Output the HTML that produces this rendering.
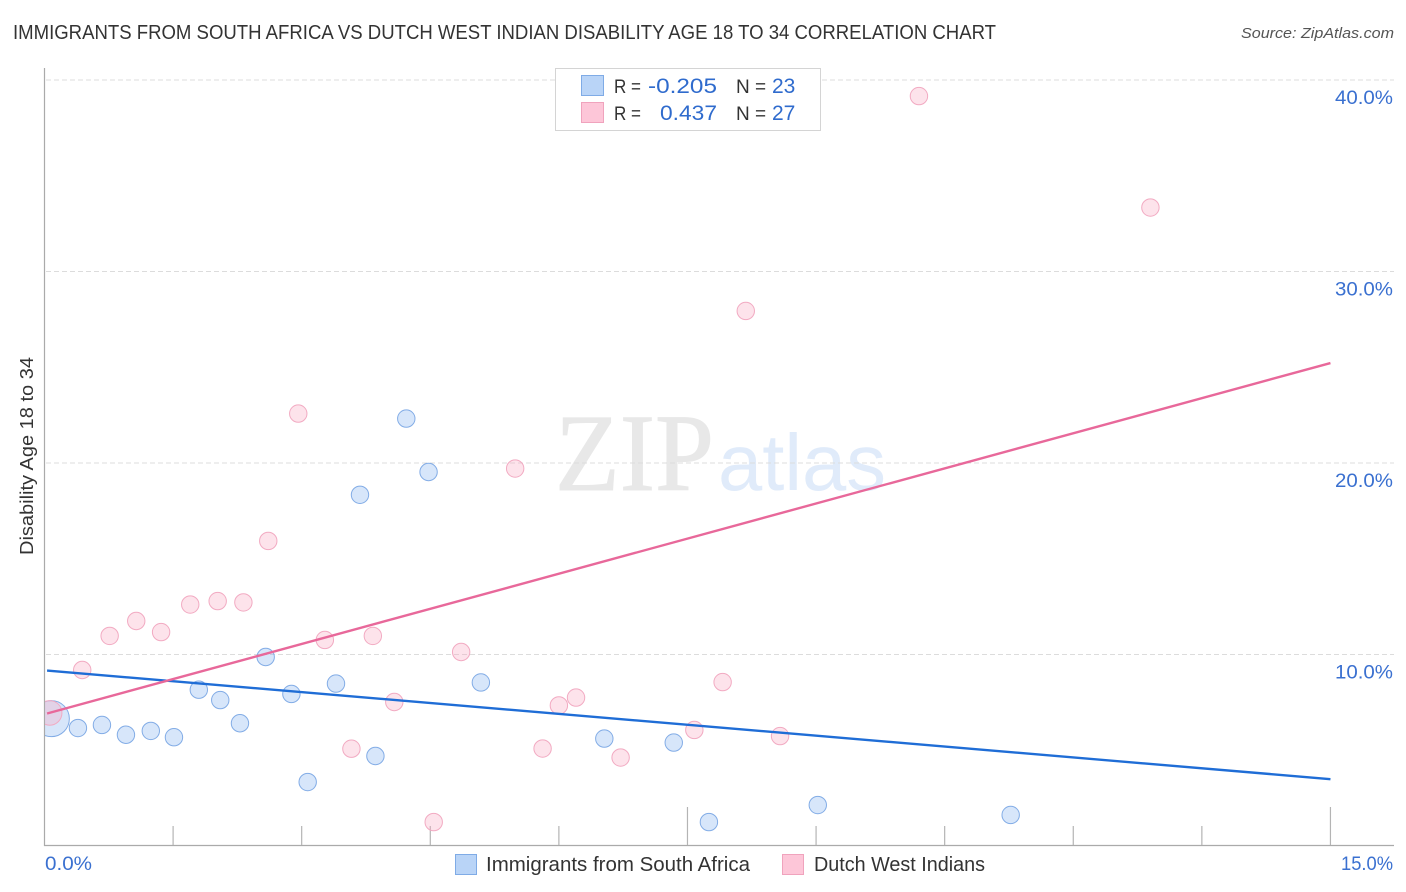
<!DOCTYPE html>
<html lang="en">
<head>
<meta charset="utf-8">
<title>Immigrants from South Africa vs Dutch West Indian Disability Age 18 to 34 Correlation Chart</title>
<style>
html,body{margin:0;padding:0;background:#fff;width:1406px;height:892px;overflow:hidden}
svg{display:block;font-family:"Liberation Sans",sans-serif}
</style>
</head>
<body>
<svg id="chart" xmlns="http://www.w3.org/2000/svg" width="1406" height="892" viewBox="0 0 1406 892">
  <defs><clipPath id="plot-clip"><rect x="45" y="60" width="1349" height="785"/></clipPath></defs>
  <text x="13" y="39" font-size="20" fill="#333" textLength="983" lengthAdjust="spacingAndGlyphs">IMMIGRANTS FROM SOUTH AFRICA VS DUTCH WEST INDIAN DISABILITY AGE 18 TO 34 CORRELATION CHART</text>
  <text x="1394" y="38" font-size="15" font-style="italic" fill="#555" text-anchor="end" textLength="153" lengthAdjust="spacingAndGlyphs">Source: ZipAtlas.com</text>

  <g>
    <text x="555" y="490" font-family="'Liberation Serif',serif" font-size="110" fill="#e8e8e8" stroke="#e8e8e8" stroke-width="1" textLength="159" lengthAdjust="spacingAndGlyphs">ZIP</text>
    <text x="718" y="490" font-size="80" fill="#e0ebfa" textLength="168" lengthAdjust="spacingAndGlyphs">atlas</text>
  </g>

  <g id="grid"></g>
  <g id="axes"></g>
  <g id="series-blue" clip-path="url(#plot-clip)"></g>
  <g id="series-pink" clip-path="url(#plot-clip)"></g>
  <g id="trends"></g>
  <g id="labels"></g>

  <text transform="translate(33,456) rotate(-90)" font-size="18" fill="#333" text-anchor="middle" textLength="198" lengthAdjust="spacingAndGlyphs">Disability Age 18 to 34</text>

  <g>
    <rect x="555.5" y="68.5" width="265" height="62" fill="#fff" stroke="#d4d4d4" stroke-width="1"/>
    <rect x="581.5" y="75.5" width="22" height="20" fill="#b9d4f7" stroke="#7fabe6"/>
    <rect x="581.5" y="102.5" width="22" height="20" fill="#fdc6d8" stroke="#f0a3bd"/>
    <text x="614" y="93" font-size="19" fill="#333" textLength="27" lengthAdjust="spacingAndGlyphs">R =</text>
    <text x="648" y="93" font-size="21" fill="#2f6bcd" textLength="69" lengthAdjust="spacingAndGlyphs">-0.205</text>
    <text x="736" y="93" font-size="19" fill="#333">N =</text>
    <text x="772" y="93" font-size="21" fill="#2f6bcd">23</text>
    <text x="614" y="120" font-size="19" fill="#333" textLength="27" lengthAdjust="spacingAndGlyphs">R =</text>
    <text x="660" y="120" font-size="21" fill="#2f6bcd" textLength="57" lengthAdjust="spacingAndGlyphs">0.437</text>
    <text x="736" y="120" font-size="19" fill="#333">N =</text>
    <text x="772" y="120" font-size="21" fill="#2f6bcd">27</text>
  </g>

  <g>
    <rect x="455.5" y="854.5" width="21" height="20" fill="#b9d4f7" stroke="#7fabe6"/>
    <text x="486" y="871" font-size="20" fill="#333" textLength="264" lengthAdjust="spacingAndGlyphs">Immigrants from South Africa</text>
    <rect x="782.5" y="854.5" width="21" height="20" fill="#fdc6d8" stroke="#f0a3bd"/>
    <text x="814" y="871" font-size="20" fill="#333" textLength="171" lengthAdjust="spacingAndGlyphs">Dutch West Indians</text>
  </g>
</svg>
<script>
const blueX = [0.08,0.39,0.67,0.95,1.24,1.51,1.80,2.05,2.28,2.58,2.88,3.07,3.40,3.68,3.86,4.22,4.48,5.09,6.53,7.34,7.75,9.02,11.27];
const blueY = [6.65,6.16,6.32,5.81,6.01,5.68,8.16,7.62,6.41,9.87,7.94,3.34,8.48,18.34,4.70,22.32,19.53,8.54,5.61,5.40,1.25,2.14,1.62];
const blueWeight = [4,1,1,1,1,1,1,1,1,1,1,1,1,1,1,1,1,1,1,1,1,1,1];
const pinkX = [0.06,0.44,0.76,1.07,1.36,1.70,2.02,2.32,2.61,2.96,3.27,3.58,3.83,4.08,4.54,4.86,5.49,5.81,6.00,6.20,6.72,7.58,7.91,8.18,8.58,10.20,12.90];
const pinkY = [6.95,9.19,10.97,11.75,11.17,12.61,12.79,12.72,15.93,22.58,10.76,5.08,10.97,7.52,1.25,10.13,19.71,5.09,7.34,7.75,4.62,6.06,8.56,27.94,5.74,39.16,33.34];
const pinkWeight = [2,1,1,1,1,1,1,1,1,1,1,1,1,1,1,1,1,1,1,1,1,1,1,1,1,1,1];
const blueTrendX = [0.03,15];
const blueTrendY = [9.16,3.49];
const pinkTrendX = [0.03,15];
const pinkTrendY = [6.92,25.22];
const yTicks = [10,20,30,40];
const yTickLabels = ["10.0%","20.0%","30.0%","40.0%"];
const xTicks = [1.5,3,4.5,6,7.5,9,10.5,12,13.5,15];
const xMajorTicks = [7.5,15];
const xEndLabels = ["0.0%","15.0%"];

const NS = 'http://www.w3.org/2000/svg';
const sx = v => 44.5 + v * 85.73;
const sy = v => 846 - v * 19.15;
function make(tag, attrs, parent) {
  const el = document.createElementNS(NS, tag);
  for (const k in attrs) el.setAttribute(k, attrs[k]);
  parent.appendChild(el);
  return el;
}
const grid = document.getElementById('grid');
const axes = document.getElementById('axes');
const labels = document.getElementById('labels');

yTicks.forEach((t, i) => {
  const line = make('line', {x1: 46, x2: 1394, y1: sy(t), y2: sy(t), stroke: '#dcdcdc', 'stroke-width': 1, 'stroke-dasharray': '5 3'}, grid);
  
  
  const label = make('text', {x: 1335, y: sy(t) + 24, 'font-size': 19.5, fill: '#3a70d0', textLength: 58, lengthAdjust: 'spacingAndGlyphs'}, labels);
  label.textContent = yTickLabels[i];
  
  
});

const yAxis = make('line', {x1: 44.5, x2: 44.5, y1: 68, y2: 846, stroke: '#aaa', 'stroke-width': 1.2}, axes);


const xAxis = make('line', {x1: 44, x2: 1394, y1: 845.5, y2: 845.5, stroke: '#aaa', 'stroke-width': 1.2}, axes);



xTicks.forEach(t => {
  const top = xMajorTicks.includes(t) ? 807 : 826;
  const tick = make('line', {x1: sx(t), x2: sx(t), y1: top, y2: 845, stroke: '#b4b4b4', 'stroke-width': 1.2}, axes);
  
  
});

const xStart = make('text', {x: 45, y: 870, 'font-size': 19.5, fill: '#3a70d0', textLength: 47, lengthAdjust: 'spacingAndGlyphs'}, labels);
xStart.textContent = xEndLabels[0];


const xEnd = make('text', {x: 1341, y: 870, 'font-size': 19.5, fill: '#3a70d0', textLength: 52, lengthAdjust: 'spacingAndGlyphs'}, labels);
xEnd.textContent = xEndLabels[1];



function drawPoints(parentId, xs, ys, weights, fill, stroke, name) {
  const parent = document.getElementById(parentId);
  xs.forEach((x, i) => {
    const c = make('circle', {cx: sx(x), cy: sy(ys[i]), r: 8.7 * Math.sqrt(weights[i]) + (weights[i] === 4 ? 0.6 : 0), fill: fill, stroke: stroke, 'stroke-width': 1}, parent);
    
    
  });
}
drawPoints('series-blue', blueX, blueY, blueWeight, 'rgba(122,172,238,0.30)', '#82ace6', 'immigrants-point');
drawPoints('series-pink', pinkX, pinkY, pinkWeight, 'rgba(250,170,195,0.33)', '#f2aac2', 'dutch-point');

const trends = document.getElementById('trends');
const blueLine = make('line', {x1: sx(blueTrendX[0]), y1: sy(blueTrendY[0]), x2: sx(blueTrendX[1]), y2: sy(blueTrendY[1]), stroke: '#1f6dd6', 'stroke-width': 2.4}, trends);


const pinkLine = make('line', {x1: sx(pinkTrendX[0]), y1: sy(pinkTrendY[0]), x2: sx(pinkTrendX[1]), y2: sy(pinkTrendY[1]), stroke: '#e8689a', 'stroke-width': 2.4}, trends);


</script>
</body>
</html>
